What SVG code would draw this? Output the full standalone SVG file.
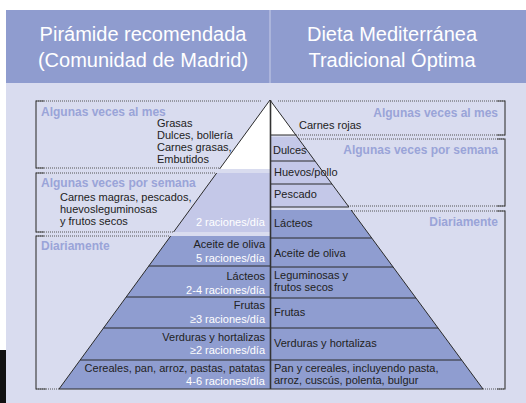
<svg xmlns="http://www.w3.org/2000/svg" width="526" height="403" viewBox="0 0 526 403">
<style>
text{font-family:"Liberation Sans",Arial,sans-serif}
.hd{font-size:20px;fill:#ffffff;text-anchor:middle}
.lab{font-size:12px;font-weight:bold;fill:#9aa4d8}
.t{font-size:11px;fill:#222}
.tw{font-size:11px;fill:#ffffff}
.r{text-anchor:end}
.white{fill:#ffffff}
.light{fill:#c4c8e8}
.dark{fill:#8f9dd0}
.sep{stroke:#2a2a2a;stroke-width:1;fill:none}
.edge{stroke:#2a2a2a;stroke-width:1;fill:none}
.dot{stroke:#555;stroke-width:1;stroke-dasharray:1 1;fill:none}
.side{stroke:#444;stroke-width:1.2;fill:none}
</style>
<rect x="0" y="0" width="526" height="403" fill="#ffffff"/>
<rect x="6" y="10" width="520" height="73" fill="#8f9ccf"/>
<rect x="6" y="83" width="520" height="320" fill="#d9dcef"/>
<rect x="0" y="350" width="6" height="53" fill="#111"/>
<line x1="270" y1="10" x2="270" y2="83" stroke="#c8cde8" stroke-width="1"/>

<g id="header-left">
<text class="hd" x="143" y="41">Pirámide recomendada</text>
<text class="hd" x="143" y="67">(Comunidad de Madrid)</text>
</g>
<g id="header-right">
<text class="hd" x="392" y="41">Dieta Mediterránea</text>
<text class="hd" x="392" y="67">Tradicional Óptima</text>
</g>

<g id="box-left-mes">
<path class="dot" d="M36,101H262M36,168H220"/>
<path class="side" d="M44,101H36V168H44"/>
<text class="lab" x="41" y="116">Algunas veces al mes</text>
<text class="t" x="157" y="127">Grasas</text>
<text class="t" x="157" y="139">Dulces, bollería</text>
<text class="t" x="157" y="151">Carnes grasas,</text>
<text class="t" x="157" y="163">Embutidos</text>
</g>
<g id="box-left-semana">
<path class="dot" d="M36,173H216M36,232H174"/>
<path class="side" d="M44,173H36V232H44"/>
<text class="lab" x="41" y="187">Algunas veces por semana</text>
<text class="t" x="60" y="201">Carnes magras, pescados,</text>
<text class="t" x="60" y="213">huevosleguminosas</text>
<text class="t" x="60" y="225">y frutos secos</text>
</g>
<g id="box-left-diario">
<path class="dot" d="M36,236H170M36,389H59"/>
<path class="side" d="M44,236H36V389H46"/>
<text class="lab" x="41" y="250">Diariamente</text>
</g>

<g id="box-right-mes">
<path class="dot" d="M278,101H505M296,135H505"/>
<path class="side" d="M497,101H505V135H497"/>
<text class="lab r" x="498" y="117">Algunas veces al mes</text>
</g>
<g id="box-right-semana">
<path class="dot" d="M299,139H505M348,206H505"/>
<path class="side" d="M497,139H505V206H497"/>
<text class="lab r" x="498" y="154">Algunas veces por semana</text>
</g>
<g id="box-right-diario">
<path class="dot" d="M352,211H505M483,389H505"/>
<path class="side" d="M497,211H505V389H497"/>
<text class="lab r" x="498" y="226">Diariamente</text>
</g>

<g id="left-top">
<polygon class="white" points="270,100 270,169 219.6,169"/>
<path class="edge" d="M270,100L219.6,169"/>
</g>
<g id="left-semana">
<polygon class="light" points="216.7,173 270,173 270,232 173.6,232"/>
<path class="edge" d="M216.7,173L173.6,232"/>
<text class="tw r" x="265" y="226">2 raciones/día</text>
</g>
<g id="left-aceite">
<polygon class="dark" points="170.7,236 270,236 270,266 148.8,266"/>
<text class="t r" x="265" y="248">Aceite de oliva</text>
<text class="tw r" x="265" y="262">5 raciones/día</text>
</g>
<g id="left-lacteos">
<polygon class="dark" points="148.8,266 270,266 270,297 126.2,297"/>
<text class="t r" x="265" y="280">Lácteos</text>
<text class="tw r" x="265" y="294">2-4 raciones/día</text>
</g>
<g id="left-frutas">
<polygon class="dark" points="126.2,297 270,297 270,328 103.5,328"/>
<text class="t r" x="265" y="309">Frutas</text>
<text class="tw r" x="265" y="323">≥3 raciones/día</text>
</g>
<g id="left-verduras">
<polygon class="dark" points="103.5,328 270,328 270,360 80.2,360"/>
<text class="t r" x="265" y="341">Verduras y hortalizas</text>
<text class="tw r" x="265" y="354">≥2 raciones/día</text>
</g>
<g id="left-cereales">
<polygon class="dark" points="80.2,360 270,360 270,389 59,389"/>
<text class="t r" x="265" y="372">Cereales, pan, arroz, pastas, patatas</text>
<text class="tw r" x="265" y="385">4-6 raciones/día</text>
</g>
<path class="edge" d="M170.7,236L59,389H270"/>
<path class="sep" d="M148.8,266H270M126.2,297H270M103.5,328H270M80.2,360H270"/>

<g id="right-carnes">
<polygon class="white" points="270,100 295.8,135 270,135"/>
<text class="t" x="299" y="129">Carnes rojas</text>
</g>
<g id="right-dulces">
<polygon class="light" points="270,137 297.3,137 315,161 270,161"/>
<text class="t" x="273" y="154">Dulces</text>
</g>
<g id="right-huevos">
<polygon class="light" points="270,161 315,161 331.9,184 270,184"/>
<text class="t" x="274" y="176">Huevos/pollo</text>
</g>
<g id="right-pescado">
<polygon class="light" points="270,184 331.9,184 348.9,207 270,207"/>
<text class="t" x="274" y="198">Pescado</text>
</g>
<g id="right-lacteos">
<polygon class="dark" points="270,210 351.1,210 371.7,238 270,238"/>
<text class="t" x="274" y="227">Lácteos</text>
</g>
<g id="right-aceite">
<polygon class="dark" points="270,238 371.7,238 393.1,267 270,267"/>
<text class="t" x="274" y="257">Aceite de oliva</text>
</g>
<g id="right-leguminosas">
<polygon class="dark" points="270,267 393.1,267 415.9,298 270,298"/>
<text class="t" x="274" y="279">Leguminosas y</text>
<text class="t" x="274" y="291">frutos secos</text>
</g>
<g id="right-frutas">
<polygon class="dark" points="270,298 415.9,298 438,328 270,328"/>
<text class="t" x="274" y="316">Frutas</text>
</g>
<g id="right-verduras">
<polygon class="dark" points="270,328 438,328 461.6,360 270,360"/>
<text class="t" x="274" y="347">Verduras y hortalizas</text>
</g>
<g id="right-pan">
<polygon class="dark" points="270,360 461.6,360 483,389 270,389"/>
<text class="t" x="274" y="372">Pan y cereales, incluyendo pasta,</text>
<text class="t" x="274" y="384">arroz, cuscús, polenta, bulgur</text>
</g>
<path class="edge" d="M270,100L348.9,207M351.1,210L483,389H270M270,135H295.8"/>
<path class="sep" d="M270,161H315M270,184H331.9M270,207H348.9M270,238H371.7M270,267H393.1M270,298H415.9M270,328H438M270,360H461.6"/>
<line x1="270.5" y1="100" x2="270.5" y2="389" stroke="#333" stroke-width="1.6"/>
</svg>
